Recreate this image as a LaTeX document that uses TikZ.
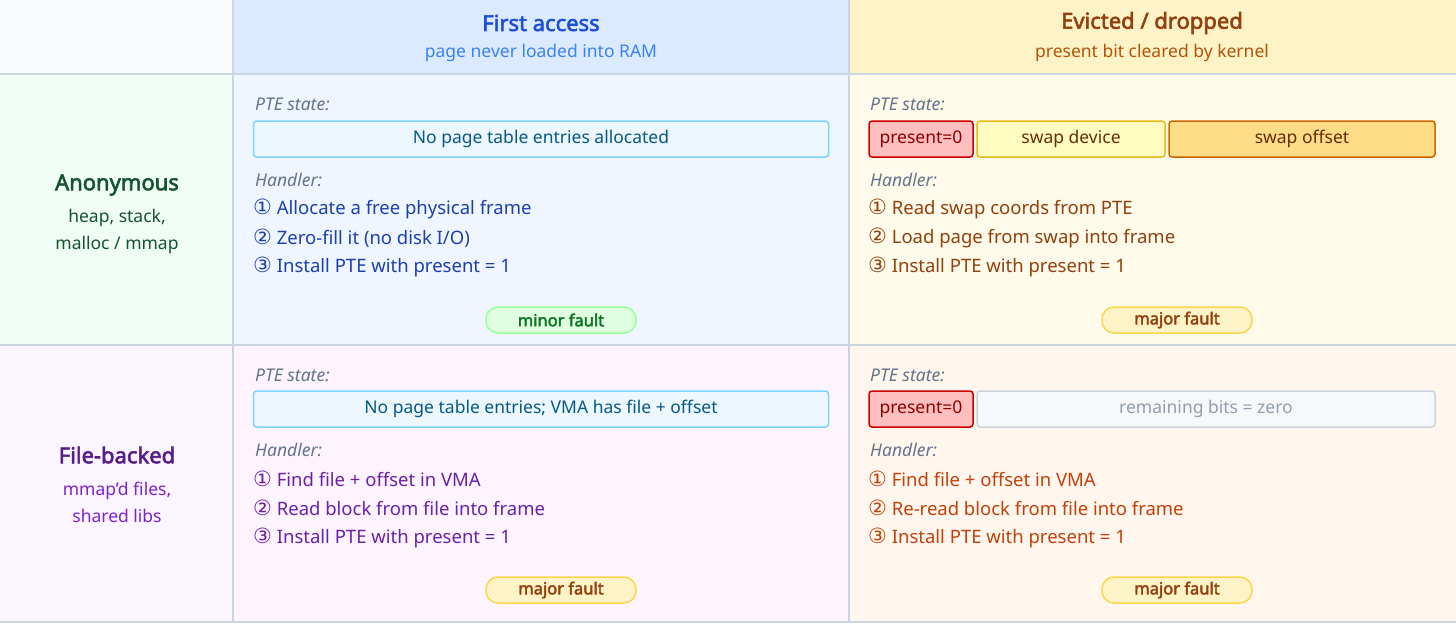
\documentclass[tikz,border=0pt]{standalone}
\usepackage{fontspec}
\setmainfont{Noto Sans}[BoldFont={Noto Sans}, BoldFeatures={FakeBold=2.5}]
\newfontfamily\symfont{DejaVu Sans}
\usetikzlibrary{positioning}
\definecolor{grid}{HTML}{CBD5E1}
\definecolor{hdA}{HTML}{DBEAFE}\definecolor{hdB}{HTML}{FEF3C7}
\definecolor{cAA}{HTML}{EFF6FF}\definecolor{cAB}{HTML}{FFFBEB}
\definecolor{cBA}{HTML}{FDF4FF}\definecolor{cBB}{HTML}{FFF7ED}
\definecolor{lbA}{HTML}{F0FDF4}\definecolor{lbB}{HTML}{FAF5FF}
\definecolor{corner}{HTML}{F8FAFC}
\definecolor{tblue}{HTML}{1D4ED8}\definecolor{sblue}{HTML}{3B82F6}
\definecolor{tamber}{HTML}{92400E}\definecolor{samber}{HTML}{B45309}
\definecolor{tgreen}{HTML}{14532D}\definecolor{tpurple}{HTML}{581C87}
\definecolor{spurple}{HTML}{7E22CE}
\definecolor{hblue}{HTML}{1E40AF}\definecolor{hpurple}{HTML}{6B21A8}
\definecolor{hred}{HTML}{C2410C}\definecolor{slate}{HTML}{64748B}
\definecolor{sky}{HTML}{E0F2FE}\definecolor{skyline}{HTML}{7DD3FC}\definecolor{skytext}{HTML}{075985}
\tikzstyle{cell}=[draw=grid, line width=1.5pt]
\tikzstyle{lbl}=[anchor=west, inner sep=0pt, font=\fontsize{18.5}{20}\selectfont]
\tikzstyle{hint}=[lbl, font=\fontsize{17.5}{20}\selectfont\itshape, text=slate]
\tikzstyle{bx}=[draw, rounded corners=3pt, line width=1.5pt, minimum height=36pt, inner sep=0pt, font=\fontsize{17.5}{20}\selectfont]
\tikzstyle{pte}=[bx, fill=sky!60!white, draw=skyline, text=skytext]
\tikzstyle{badge}=[draw, rounded corners=12pt, line width=1.5pt, minimum width=150pt, minimum height=26pt, inner sep=0pt, font=\fontsize{16.5}{18}\selectfont\bfseries]
\tikzstyle{minor}=[badge, fill=green!12!white, draw=green!40!white, text=tgreen!80!green]
\tikzstyle{major}=[badge, fill=hdB, draw=yellow!60!orange!70!white, text=tamber]
\tikzstyle{zero}=[bx, fill=red!25!white, draw=red!80!black, text=red!55!black]
\newcommand{\nm}[1]{{\symfont\fontsize{21}{20}\selectfont #1}}
\begin{document}
\begin{tikzpicture}[x=1pt, y=-1pt]
\useasboundingbox (0,0) rectangle (1456,624);
% backgrounds
\fill[corner] (0,0) rectangle (233,74);
\fill[hdA] (233,0) rectangle (849,74);
\fill[hdB] (849,0) rectangle (1456,74);
\fill[lbA] (0,74) rectangle (233,345);
\fill[lbB] (0,345) rectangle (233,622);
\fill[cAA] (233,74) rectangle (849,345);
\fill[cAB] (849,74) rectangle (1456,345);
\fill[cBA] (233,345) rectangle (849,622);
\fill[cBB] (849,345) rectangle (1456,622);
\draw[cell] (233,0) -- (233,622) (849,0) -- (849,622)
  (0,74) -- (1456,74) (0,345) -- (1456,345) (0,622) -- (1456,622);
% headers
\node[font=\fontsize{22}{24}\selectfont\bfseries, text=tblue] (hA) at (541,23) {First access};
\node[font=\fontsize{17.5}{20}\selectfont, text=sblue] (sA) at (541,53) {page never loaded into RAM};
\node[font=\fontsize{22}{24}\selectfont\bfseries, text=tamber] (hB) at (1152,23) {Evicted / dropped};
\node[font=\fontsize{17.5}{20}\selectfont, text=samber] (sB) at (1152,53) {present bit cleared by kernel};
% row labels
\node[font=\fontsize{22}{24}\selectfont\bfseries, text=tgreen] (anon) at (117,185) {Anonymous};
\node[align=center, font=\fontsize{17.5}{27}\selectfont, text=tgreen] (anonS) at (117,231) {heap, stack,\\malloc / mmap};
\node[font=\fontsize{22}{24}\selectfont\bfseries, text=tpurple] (file) at (117,455) {File-backed};
\node[align=center, font=\fontsize{17.5}{27}\selectfont, text=spurple] (fileS) at (117,502) {mmap'd files,\\shared libs};
% anonymous, first access
\node[hint] (pAA) at (255,104) {PTE state:};
\node[pte, minimum width=575pt] (bAA) at (541,139) {No page table entries allocated};
\node[hint] (hAA) at (255,180) {Handler:};
\node[lbl, text=hblue] (aA1) at (253,209) {\nm{①} Allocate a free physical frame};
\node[lbl, text=hblue] (aA2) at (253,238) {\nm{②} Zero-fill it (no disk I/O)};
\node[lbl, text=hblue] (aA3) at (253,267) {\nm{③} Install PTE with present = 1};
\node[minor] (fAA) at (561,320) {minor fault};
% anonymous, evicted
\node[hint] (pAB) at (870,104) {PTE state:};
\node[zero, minimum width=104pt] (zAB) at (921,139) {present=0};
\node[bx, minimum width=188pt, fill=yellow!25!white, draw=yellow!60!orange!90!black, text=tamber!70!black] (dev) at (1071,139) {swap device};
\node[bx, minimum width=266pt, fill=yellow!45!orange!45!white, draw=orange!80!black, text=tamber!70!black] (off) at (1302,139) {swap offset};
\node[hint] (hAB) at (870,180) {Handler:};
\node[lbl, text=tamber] (aB1) at (868,209) {\nm{①} Read swap coords from PTE};
\node[lbl, text=tamber] (aB2) at (868,238) {\nm{②} Load page from swap into frame};
\node[lbl, text=tamber] (aB3) at (868,267) {\nm{③} Install PTE with present = 1};
\node[major] (fAB) at (1177,320) {major fault};
% file-backed, first access
\node[hint] (pBA) at (255,375) {PTE state:};
\node[pte, minimum width=575pt] (bBA) at (541,409) {No page table entries; VMA has file + offset};
\node[hint] (hBA) at (255,450) {Handler:};
\node[lbl, text=hpurple] (bA1) at (253,479) {\nm{①} Find file + offset in VMA};
\node[lbl, text=hpurple] (bA2) at (253,508) {\nm{②} Read block from file into frame};
\node[lbl, text=hpurple] (bA3) at (253,538) {\nm{③} Install PTE with present = 1};
\node[major] (fBA) at (561,590) {major fault};
% file-backed, evicted
\node[hint] (pBB) at (870,375) {PTE state:};
\node[zero, minimum width=104pt] (zBB) at (921,409) {present=0};
\node[bx, minimum width=458pt, fill=corner!50!grid!30!white, draw=grid, text=slate!70!white] (rest) at (1206,409) {remaining bits = zero};
\node[hint] (hBB) at (870,450) {Handler:};
\node[lbl, text=hred] (bB1) at (868,479) {\nm{①} Find file + offset in VMA};
\node[lbl, text=hred] (bB2) at (868,508) {\nm{②} Re-read block from file into frame};
\node[lbl, text=hred] (bB3) at (868,538) {\nm{③} Install PTE with present = 1};
\node[major] (fBB) at (1177,590) {major fault};
\end{tikzpicture}
\end{document}
